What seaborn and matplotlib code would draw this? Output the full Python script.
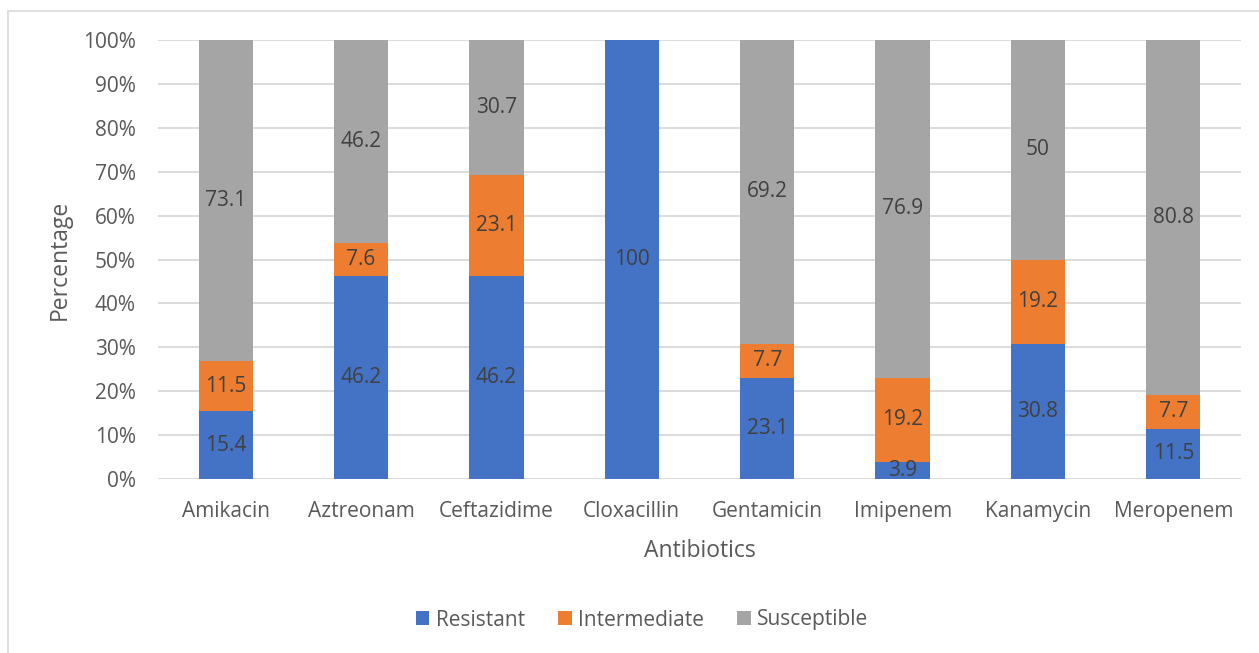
import matplotlib
matplotlib.use("Agg")
import matplotlib.pyplot as plt
import seaborn as sns
import pandas as pd
import numpy as np
from matplotlib.patches import Rectangle, Patch
from matplotlib.ticker import PercentFormatter

antibiotics = ["Amikacin", "Aztreonam", "Ceftazidime", "Cloxacillin",
               "Gentamicin", "Imipenem", "Kanamycin", "Meropenem"]
resistant = [15.4, 46.2, 46.2, 100, 23.1, 3.9, 30.8, 11.5]
intermediate = [11.5, 7.6, 23.1, 0, 7.7, 19.2, 19.2, 7.7]
susceptible = [73.1, 46.2, 30.7, 0, 69.2, 76.9, 50, 80.8]
series_names = ["Resistant", "Intermediate", "Susceptible"]
colors = ["#4472C4", "#ED7D31", "#A5A5A5"]

sns.set_theme(style="white")
plt.rcParams["font.family"] = ["Open Sans", "DejaVu Sans"]

df = pd.DataFrame({"Antibiotic": antibiotics, "Resistant": resistant,
                   "Intermediate": intermediate, "Susceptible": susceptible})
tot = df[series_names].sum(axis=1)
pct = df[series_names].div(tot, axis=0) * 100
df["c1"] = pct["Resistant"]
df["c2"] = pct["Resistant"] + pct["Intermediate"]
df["c3"] = df["c2"] + pct["Susceptible"]

fig = plt.figure(figsize=(12.59, 6.53), dpi=100)
ax = fig.add_axes([158/1259, (653-479)/653, (1241-158)/1259, (479-40)/653])

for col, c in zip(["c3", "c2", "c1"], colors[::-1]):
    sns.barplot(data=df, x="Antibiotic", y=col, color=c, width=0.4,
                saturation=1, ax=ax, linewidth=0, zorder=3)

text_col = "#404040"
for i in range(len(antibiotics)):
    bottom = 0
    for name in series_names:
        v = df.loc[i, name]
        h = pct.loc[i, name]
        if v > 0:
            ax.text(i, bottom + h/2, f"{v:g}", ha="center", va="center",
                    fontsize=15, color=text_col, zorder=5)
        bottom += h

ax.set_ylim(0, 100)
ax.set_xlim(-0.5, len(antibiotics) - 0.5)
ax.set_yticks(np.arange(0, 101, 10))
ax.yaxis.set_major_formatter(PercentFormatter(decimals=0))
ax.grid(axis="y", color="#D9D9D9", linewidth=1.3, zorder=0)
ax.grid(axis="x", visible=False)
for s in ax.spines.values():
    s.set_visible(False)
ax.tick_params(axis="both", length=0, labelsize=15, labelcolor="#595959")
ax.tick_params(axis="x", pad=16)
ax.tick_params(axis="y", pad=16)
ax.set_xlabel("Antibiotics", fontsize=16.5, color="#595959", labelpad=12)
ax.set_ylabel("Percentage", fontsize=16.5, color="#595959", labelpad=8)

handles = [Patch(facecolor=c, edgecolor="none") for c in colors]
fig.legend(handles, series_names, loc="center", bbox_to_anchor=(642/1259, 1 - 620/653),
           ncol=3, frameon=False, fontsize=15, handlelength=0.65, handleheight=0.65,
           handletextpad=0.3, columnspacing=1.6, labelcolor="#595959")

fig.patches.append(Rectangle((8/1259, -0.1), 1.2, 1 - 11/653 + 0.1, transform=fig.transFigure,
                             fill=False, edgecolor="#D9D9D9", linewidth=1.2))

fig.savefig("out.png", dpi=100)
